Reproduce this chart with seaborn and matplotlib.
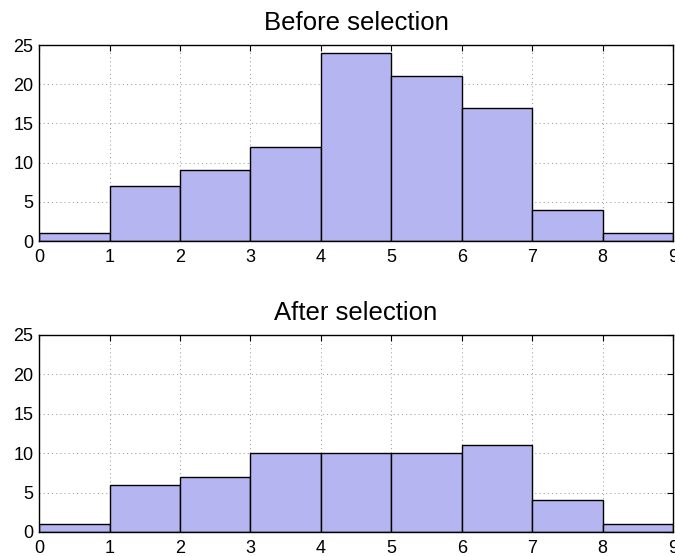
import matplotlib
matplotlib.use("Agg")
import matplotlib.pyplot as plt
import seaborn as sns

# Histogram counts per unit-wide bin over [0, 9]
bin_edges = [0, 1, 2, 3, 4, 5, 6, 7, 8, 9]
before_counts = [1, 7, 9, 12, 24, 21, 17, 4, 1]
after_counts = [1, 6, 7, 10, 10, 10, 11, 4, 1]
titles = ["Before selection", "After selection"]
x_ticks = [0, 1, 2, 3, 4, 5, 6, 7, 8, 9]
y_ticks = [0, 5, 10, 15, 20, 25]

sns.set_style("white")
plt.rcParams["font.family"] = ["Liberation Sans", "DejaVu Sans"]

fig = plt.figure(figsize=(6.75, 5.56), dpi=100)
ax_top = fig.add_axes([0.058, 0.5665, 0.939, 0.3525])
ax_bot = fig.add_axes([0.058, 0.0432, 0.939, 0.3543])

centers = [(a + b) / 2 for a, b in zip(bin_edges[:-1], bin_edges[1:])]

for ax, counts, title in zip([ax_top, ax_bot], [before_counts, after_counts], titles):
    sns.histplot(x=centers, weights=counts, bins=bin_edges, ax=ax,
                 color="#b5b5f1", alpha=1.0, edgecolor="black", linewidth=1.0)
    ax.set_xlim(0, 9)
    ax.set_ylim(0, 25)
    ax.set_xticks(x_ticks)
    ax.set_yticks(y_ticks)
    ax.set_xlabel("")
    ax.set_ylabel("")
    ax.set_title(title, fontsize=18.5, pad=11, color="black")
    ax.grid(True, linestyle=(0, (1, 3)), color="#a0a0a0", linewidth=0.75)
    ax.set_axisbelow(True)
    ax.tick_params(direction="in", top=True, right=True, length=4,
                   labelsize=13, width=0.8, color="black", labelcolor="black")
    ax.tick_params(axis="x", pad=6)
    ax.tick_params(axis="y", pad=4)
    for s in ax.spines.values():
        s.set_color("black")
        s.set_linewidth(1.0)
        s.set_visible(True)

fig.savefig("out.png", dpi=100)
